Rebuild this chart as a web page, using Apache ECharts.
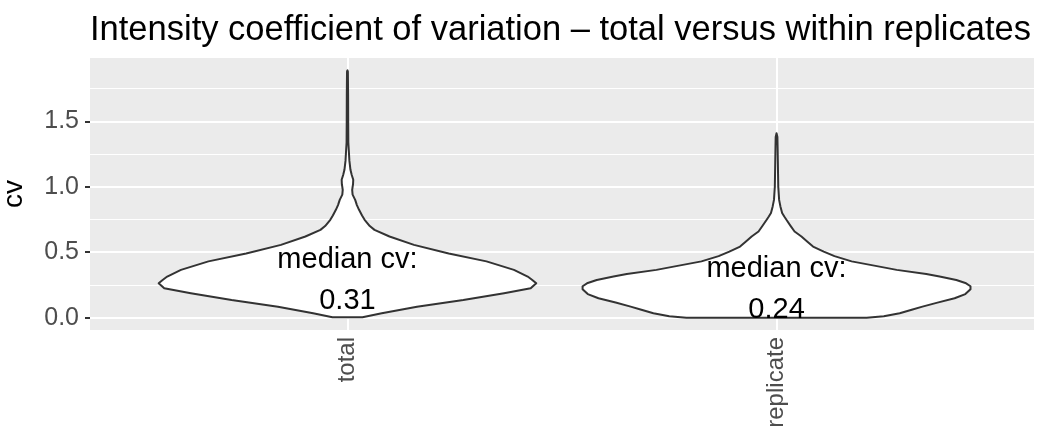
<!DOCTYPE html>
<html>
<head>
<meta charset="utf-8">
<script src="https://cdn.jsdelivr.net/npm/echarts@6/dist/echarts.min.js"></script>
<style>
html, body { margin: 0; padding: 0; background: #fff; }
#main { width: 1039px; height: 426px; }
</style>
</head>
<body>
<div id="main"></div>
<script>
var groups = ['total', 'replicate'];
var medians = [0.31, 0.24];
var yTicks = [0, 0.5, 1, 1.5];
var yMinor = [0.25, 0.75, 1.25, 1.75];

// violin outlines: cv value and half width in category units
var totalCv = [0.003, 0.034, 0.084, 0.135, 0.187, 0.225, 0.263, 0.29, 0.314, 0.365, 0.43, 0.49, 0.556, 0.62, 0.671, 0.70, 0.748, 0.78, 0.824, 0.86, 0.90, 0.94, 0.977, 1.02, 1.054, 1.09, 1.13, 1.2, 1.258, 1.34, 1.5, 1.7, 1.88, 1.89];
var totalWidth = [0.035, 0.08, 0.162, 0.27, 0.365, 0.427, 0.44, 0.43, 0.42, 0.388, 0.324, 0.236, 0.155, 0.098, 0.063, 0.052, 0.04, 0.034, 0.027, 0.022, 0.018, 0.012, 0.011, 0.013, 0.0135, 0.01, 0.007, 0.0045, 0.0035, 0.002, 0.0017, 0.0015, 0.001, 0];
var replicateCv = [0.0, 0.01, 0.034, 0.06, 0.084, 0.115, 0.148, 0.18, 0.217, 0.24, 0.265, 0.288, 0.314, 0.334, 0.365, 0.39, 0.43, 0.47, 0.505, 0.543, 0.58, 0.62, 0.658, 0.70, 0.748, 0.773, 0.80, 0.85, 0.90, 1.0, 1.1, 1.2, 1.3, 1.38, 1.41];
var replicateWidth = [0.21, 0.25, 0.287, 0.315, 0.34, 0.375, 0.415, 0.44, 0.452, 0.452, 0.44, 0.419, 0.38, 0.349, 0.28, 0.24, 0.175, 0.135, 0.11, 0.085, 0.072, 0.058, 0.042, 0.033, 0.023, 0.018, 0.013, 0.009, 0.006, 0.004, 0.0035, 0.003, 0.0025, 0.002, 0];

var profiles = [
    { cv: totalCv, width: totalWidth },
    { cv: replicateCv, width: replicateWidth }
];

var font = "'Liberation Sans', Arial, Helvetica, sans-serif";
var myChart = echarts.init(document.getElementById('main'));

// white grid lines on the grey panel
var gridLines = [];
yTicks.forEach(function (v) {
    gridLines.push({ yAxis: v, lineStyle: { width: 2 } });
});
yMinor.forEach(function (v) {
    gridLines.push({ yAxis: v, lineStyle: { width: 1 } });
});
groups.forEach(function (g, i) {
    gridLines.push({ xAxis: i + 1, lineStyle: { width: 2 } });
});

function renderViolin(params, api) {
    var i = params.dataIndex;
    var x = api.value(0);
    var p = profiles[i];
    var pts = [];
    var k;
    for (k = 0; k < p.cv.length; k++) {
        pts.push(api.coord([x + p.width[k], p.cv[k]]));
    }
    for (k = p.cv.length - 1; k >= 0; k--) {
        pts.push(api.coord([x - p.width[k], p.cv[k]]));
    }
    var mid = api.coord([x, api.value(1)]);
    return {
        type: 'group',
        children: [
            {
                type: 'polygon',
                shape: { points: pts },
                style: { fill: '#ffffff', stroke: '#333333', lineWidth: 2, lineJoin: 'round' }
            },
            {
                type: 'text',
                style: {
                    text: 'median cv:\n' + api.value(1).toFixed(2),
                    x: mid[0],
                    y: mid[1] + 3,
                    align: 'center',
                    verticalAlign: 'middle',
                    fontSize: 29,
                    fontFamily: font,
                    lineHeight: 41,
                    fill: '#000000'
                }
            }
        ]
    };
}

var option = {
    animation: false,
    title: {
        text: 'Intensity coefficient of variation \u2013 total versus within replicates',
        left: 90,
        top: 13,
        padding: 0,
        textStyle: { fontSize: 34.5, fontWeight: 'normal', color: '#000', fontFamily: font }
    },
    grid: {
        left: 90,
        right: 5,
        top: 58,
        bottom: 96,
        containLabel: false,
        outerBoundsMode: 'none',
        show: true,
        backgroundColor: '#EBEBEB',
        borderWidth: 0
    },
    xAxis: {
        type: 'value',
        min: 0.4,
        max: 2.6,
        axisLine: { show: false },
        splitLine: { show: false },
        axisTick: { show: true, customValues: [1, 2], length: 5, lineStyle: { color: '#333333', width: 2 } },
        axisLabel: {
            customValues: [1, 2],
            rotate: 90,
            margin: 7,
            color: '#4D4D4D',
            fontSize: 24,
            fontFamily: font,
            formatter: function (v) { return groups[Math.round(v) - 1]; }
        }
    },
    yAxis: {
        type: 'value',
        min: -0.0945,
        max: 1.9845,
        name: 'cv',
        nameLocation: 'middle',
        nameRotate: 90,
        nameGap: 62,
        nameTextStyle: { fontSize: 28, color: '#000', fontFamily: font },
        axisLine: { show: false },
        splitLine: { show: false },
        axisTick: { show: true, customValues: yTicks, length: 5, lineStyle: { color: '#333333', width: 2 } },
        axisLabel: {
            customValues: yTicks,
            margin: 11,
            color: '#4D4D4D',
            fontSize: 25,
            fontFamily: font,
            formatter: function (v) { return v.toFixed(1); }
        }
    },
    series: [
        {
            type: 'line',
            data: [],
            z: 1,
            silent: true,
            markLine: {
                silent: true,
                z: 1,
                symbol: 'none',
                label: { show: false },
                lineStyle: { color: '#ffffff', type: 'solid' },
                data: gridLines
            }
        },
        {
            type: 'custom',
            z: 10,
            renderItem: renderViolin,
            data: groups.map(function (g, i) { return [i + 1, medians[i]]; })
        }
    ]
};

myChart.setOption(option);
</script>
</body>
</html>
